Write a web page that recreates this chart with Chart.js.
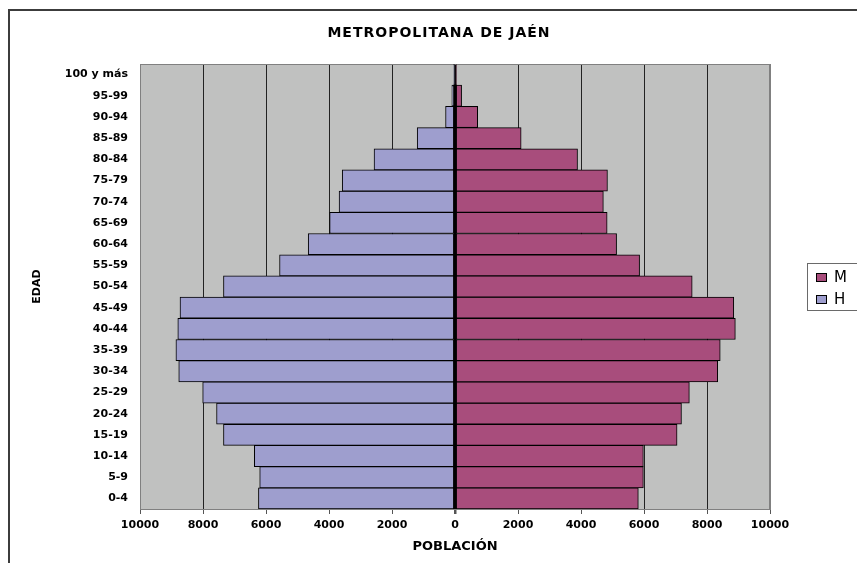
<!DOCTYPE html>
<html>
<head>
<meta charset="utf-8">
<script src="https://cdn.jsdelivr.net/npm/chart.js@4"></script>
<style>
  html, body { margin: 0; padding: 0; background: #fff; }
  canvas { display: block; }
</style>
</head>
<body>
<canvas id="piramide" width="857" height="563"></canvas>
<script>
// Datos (grupos de edad de abajo a arriba)
const edades = ["0-4", "5-9", "10-14", "15-19", "20-24", "25-29", "30-34", "35-39", "40-44", "45-49",
  "50-54", "55-59", "60-64", "65-69", "70-74", "75-79", "80-84", "85-89", "90-94", "95-99", "100 y más"];
const hombres = [6240, 6200, 6370, 7350, 7570, 8010, 8770, 8860, 8800, 8730,
  7350, 5570, 4660, 3980, 3680, 3580, 2570, 1200, 300, 100, 20];
const mujeres = [5820, 5980, 5980, 7050, 7190, 7440, 8340, 8420, 8900, 8850,
  7530, 5860, 5130, 4830, 4710, 4840, 3890, 2100, 720, 210, 30];
const ticksX = [-10000, -8000, -6000, -4000, -2000, 0, 2000, 4000, 6000, 8000, 10000];

const fuente = "'DejaVu Sans', sans-serif";

// Marco, fondo gris, título y leyenda al estilo Excel
const estiloExcel = {
  id: "estiloExcel",
  beforeDraw(chart) {
    const { ctx, chartArea: a } = chart;
    ctx.save();
    ctx.fillStyle = "#c0c1c0";
    ctx.fillRect(a.left, a.top, a.right - a.left, a.bottom - a.top);
    ctx.restore();
  },
  beforeDatasetsDraw(chart) {
    const { ctx, chartArea: a } = chart;
    ctx.save();
    ctx.strokeStyle = "#808080";
    ctx.lineWidth = 1;
    ctx.strokeRect(a.left + 0.5, a.top + 0.5, a.right - a.left - 1, a.bottom - a.top);
    ctx.restore();
  },
  afterDraw(chart) {
    const ctx = chart.ctx;
    ctx.save();
    // marco exterior
    ctx.strokeStyle = "#3c3c3c";
    ctx.lineWidth = 2;
    ctx.beginPath();
    ctx.moveTo(9, 563);
    ctx.lineTo(9, 10);
    ctx.lineTo(857, 10);
    ctx.stroke();

    // título
    ctx.fillStyle = "#000";
    ctx.font = "bold 14px " + fuente;
    ctx.letterSpacing = "1px";
    ctx.textAlign = "center";
    ctx.textBaseline = "middle";
    ctx.fillText("METROPOLITANA DE JAÉN", 439, 33);
    ctx.letterSpacing = "0px";

    // leyenda (orden inverso: M arriba)
    ctx.strokeStyle = "#6a6a6a";
    ctx.lineWidth = 1;
    ctx.strokeRect(807.5, 263.5, 60, 47);
    ctx.font = "15px " + fuente;
    ctx.textAlign = "left";
    const ds = chart.data.datasets.slice().reverse();
    ds.forEach((d, i) => {
      const y = 273 + i * 22;
      ctx.fillStyle = d.backgroundColor;
      ctx.fillRect(816, y, 11, 9);
      ctx.strokeStyle = "#000";
      ctx.strokeRect(816.5, y + 0.5, 10, 8);
      ctx.fillStyle = "#000";
      ctx.fillText(d.label, 834, y + 5);
    });
    ctx.restore();
  }
};

new Chart(document.getElementById("piramide"), {
  type: "bar",
  data: {
    labels: edades,
    datasets: [
      {
        label: "H",
        data: hombres.map(v => -v),
        backgroundColor: "#9e9ece",
        borderColor: "#000",
        borderWidth: 1,
        borderSkipped: false,
        barPercentage: 1,
        categoryPercentage: 1
      },
      {
        label: "M",
        data: mujeres,
        backgroundColor: "#a84d7c",
        borderColor: "#000",
        borderWidth: 1,
        borderSkipped: false,
        barPercentage: 1,
        categoryPercentage: 1
      }
    ]
  },
  options: {
    indexAxis: "y",
    responsive: false,
    animation: false,
    devicePixelRatio: 1,
    layout: { padding: { left: 0, right: 87, top: 64, bottom: 0 } },
    plugins: {
      legend: { display: false },
      title: { display: false },
      tooltip: { enabled: false }
    },
    scales: {
      x: {
        stacked: true,
        min: -10000,
        max: 10000,
        afterFit(scale) { scale.height = 54; },
        afterBuildTicks(scale) { scale.ticks = ticksX.map(v => ({ value: v })); },
        ticks: {
          callback: v => Math.abs(v),
          color: "#000",
          font: { family: fuente, size: 11, weight: "bold" },
          padding: 5,
          maxRotation: 0
        },
        grid: {
          color: c => c.tick && c.tick.value === 0 ? "#000" : (c.tick && Math.abs(c.tick.value) === 10000 ? "#808080" : "#222"),
          lineWidth: c => c.tick && c.tick.value === 0 ? 2.5 : 1,
          tickColor: "#555",
          tickLength: 5
        },
        border: { display: true, color: "#808080" },
        title: {
          display: true,
          text: "POBLACIÓN",
          color: "#000",
          font: { family: fuente, size: 13, weight: "bold" },
          padding: { top: 0, bottom: 9 }
        }
      },
      y: {
        stacked: true,
        reverse: true,
        afterFit(scale) { scale.width = 140; },
        ticks: {
          color: "#000",
          font: { family: fuente, size: 11, weight: "bold" },
          padding: 12,
          autoSkip: false
        },
        grid: { display: false, drawTicks: false },
        border: { display: false },
        title: {
          display: true,
          text: "EDAD",
          color: "#000",
          font: { family: fuente, size: 11, weight: "bold" },
          padding: { top: 31, bottom: 0 }
        }
      }
    }
  },
  plugins: [estiloExcel]
});
</script>
</body>
</html>
